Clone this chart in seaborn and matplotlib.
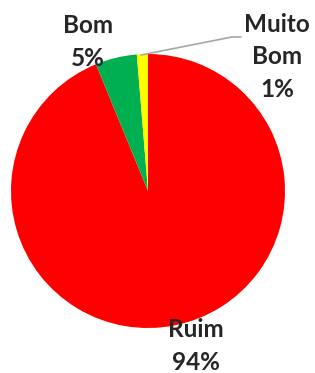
import matplotlib
matplotlib.use("Agg")
import matplotlib.pyplot as plt
import seaborn as sns
import numpy as np

sns.set_style("white")
plt.rcParams['font.family'] = ['Lato', 'DejaVu Sans']

categories = ["Ruim", "Bom", "Muito\nBom"]
values = [93.8, 4.9, 1.3]
pct_labels = ["94%", "5%", "1%"]
colors = ["#FF0000", "#00B050", "#FFFF00"]

fig = plt.figure(figsize=(3.15, 3.73), dpi=100)
cx, cy, r = 148, 191, 137
W, H = 315, 373
ax = fig.add_axes([(cx - r) / W, (H - cy - r) / H, 2 * r / W, 2 * r / H])
wedges, _ = ax.pie(values, colors=colors, startangle=90, counterclock=False,
                   wedgeprops=dict(linewidth=0), radius=1)
ax.set_xlim(-1, 1)
ax.set_ylim(-1, 1)
ax.set_aspect("equal")
ax.axis("off")

def px(x, y):
    return ((x - cx) / r, (cy - y) / r)

fs = 17.5
# label positions
pos = [px(196, 346), px(88, 42), px(277, 57)]
for cat, pl, p in zip(categories, pct_labels, pos):
    ax.text(p[0], p[1], f"{cat}\n{pl}", ha="center", va="center",
            fontsize=fs, fontweight="bold", linespacing=1.5, clip_on=False)

# leader line for small slice
ax.plot([px(141, 55)[0], px(232, 37)[0], px(241, 37)[0]],
        [px(141, 55)[1], px(232, 37)[1], px(241, 37)[1]],
        color="#A6A6A6", lw=1.2, clip_on=False)

fig.savefig("out.png", dpi=100)
